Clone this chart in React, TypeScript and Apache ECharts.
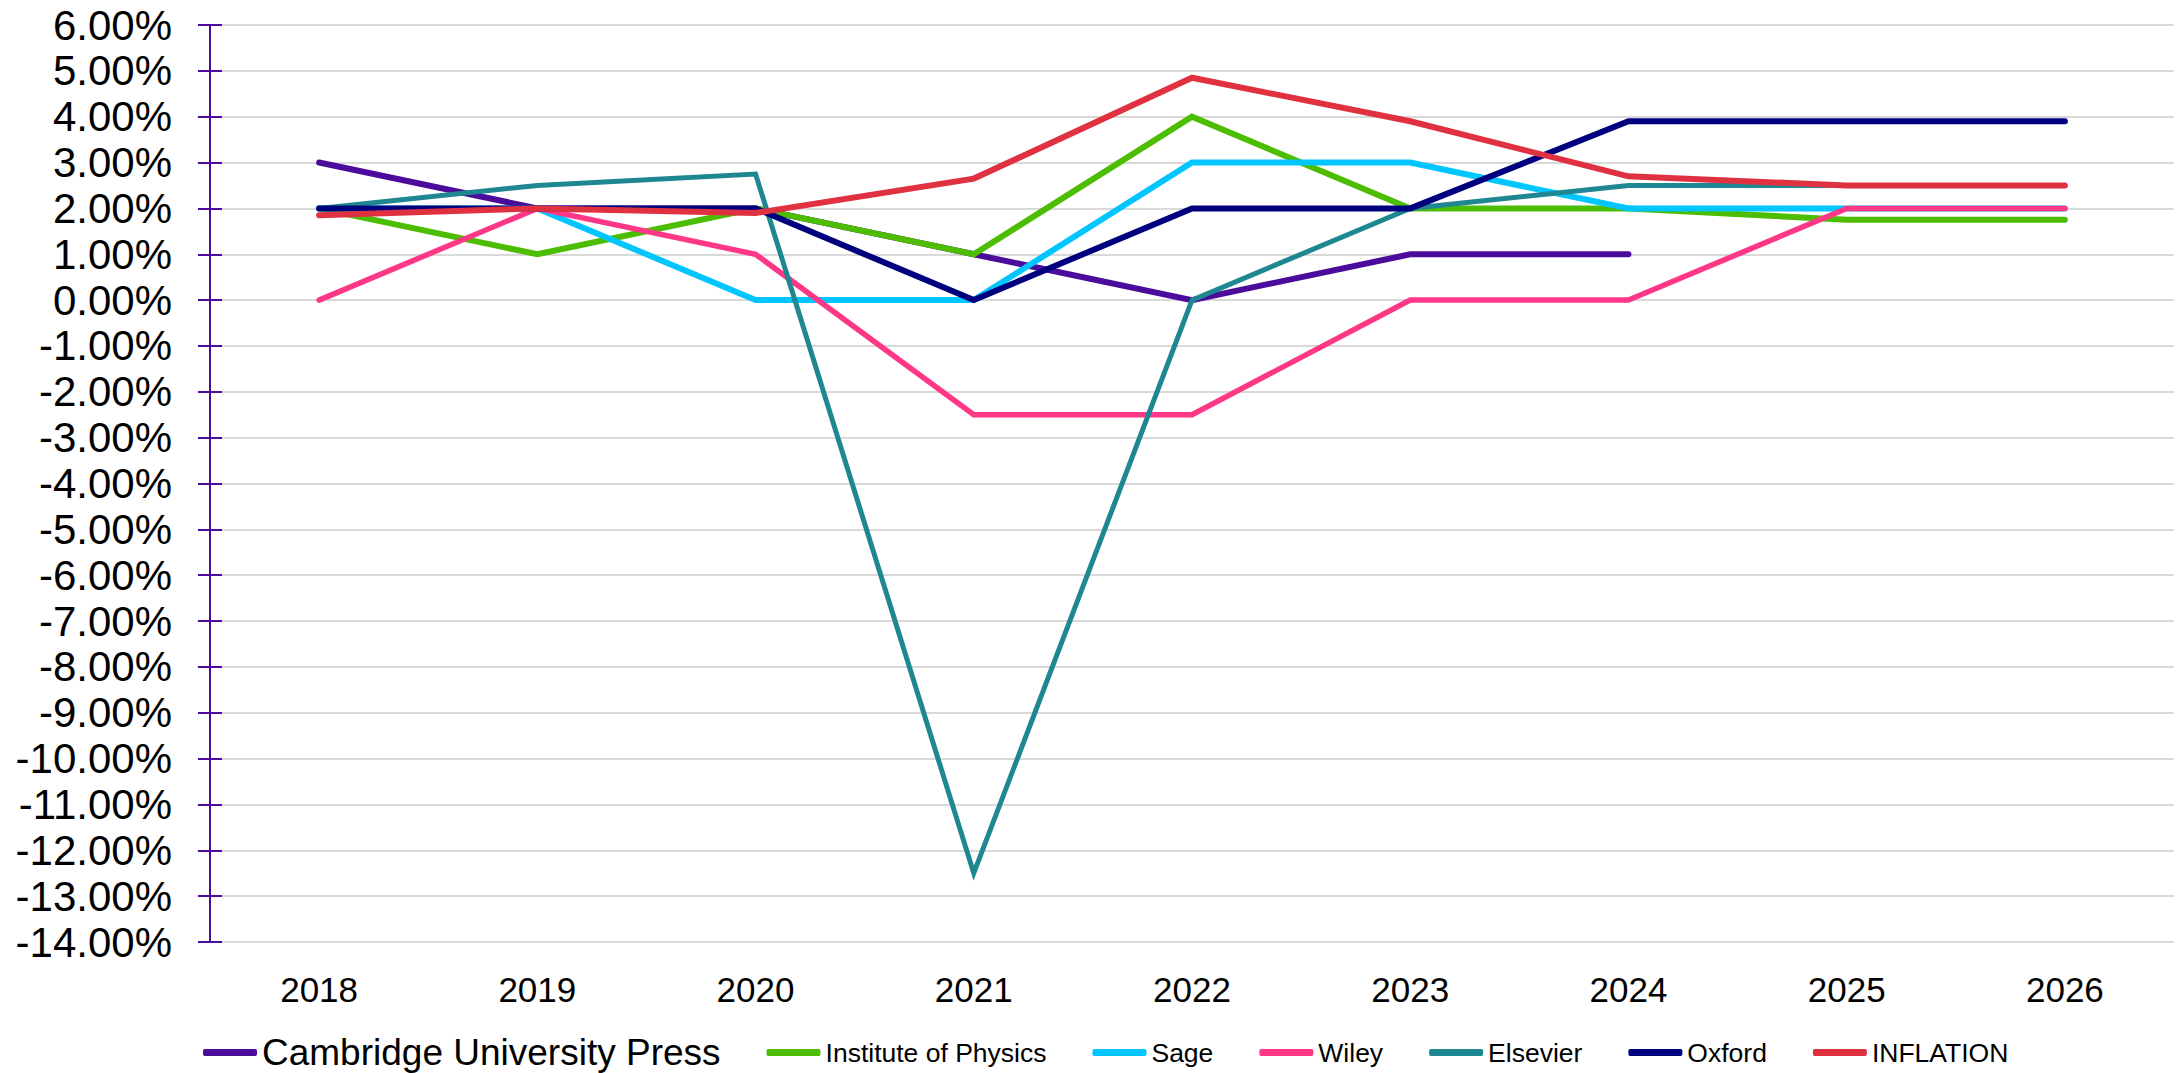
import React, { useEffect, useRef } from "react";
import * as echarts from "echarts";

const years = ["2018", "2019", "2020", "2021", "2022", "2023", "2024", "2025", "2026"];

const cambridge = [3.0, 2.0, 2.0, 1.0, 0.0, 1.0, 1.0, null, null];
const iop = [2.0, 1.0, 2.0, 1.0, 4.0, 2.0, 2.0, 1.75, 1.75];
const sage = [2.0, 2.0, 0.0, 0.0, 3.0, 3.0, 2.0, 2.0, 2.0];
const wiley = [0.0, 2.0, 1.0, -2.5, -2.5, 0.0, 0.0, 2.0, 2.0];
const elsevier = [2.0, 2.5, 2.75, -12.5, 0.0, 2.0, 2.5, 2.5, 2.5];
const oxford = [2.0, 2.0, 2.0, 0.0, 2.0, 2.0, 3.9, 3.9, 3.9];
const inflation = [1.85, 2.0, 1.9, 2.65, 4.85, 3.9, 2.7, 2.5, 2.5];

const seriesNames = [
  "Cambridge University Press",
  "Institute of Physics",
  "Sage",
  "Wiley",
  "Elsevier",
  "Oxford",
  "INFLATION",
];
const seriesData = [cambridge, iop, sage, wiley, elsevier, oxford, inflation];
const seriesColors = ["#4B0C9B", "#4CBD00", "#00C5FF", "#FF3787", "#1F8791", "#00007E", "#E03141"];
const seriesWidths = [6, 6, 6, 5.5, 5, 6, 6];

const yMin = -14;
const yMax = 6;
const yInterval = 1;

const FONT = "'Liberation Sans', Arial, sans-serif";
const AXIS_COLOR = "#4B0C9B";

export default function App() {
  const ref = useRef<HTMLDivElement>(null);
  useEffect(() => {
    if (!ref.current) return;
    const chart = echarts.init(ref.current, undefined, { renderer: "svg" });
    const option: any = {
      animation: false,
      backgroundColor: "#ffffff",
      textStyle: { fontFamily: FONT },
      grid: { left: 210, right: 8, top: 25, bottom: 131, containLabel: false },
      legend: {
        left: 198,
        top: 1029,
        itemWidth: 54,
        itemHeight: 7,
        itemGap: 46,
        icon: "roundRect",
        textStyle: { fontFamily: FONT, color: "#000000", fontSize: 26.5 },
        data: seriesNames.map((n, i) =>
          i === 0
            ? { name: n, textStyle: { fontSize: 37, color: "#000000", fontFamily: FONT } }
            : { name: n }
        ),
      },
      xAxis: {
        type: "category",
        data: years,
        boundaryGap: true,
        axisLine: { show: false },
        axisTick: { show: false },
        axisLabel: { fontSize: 35, color: "#000000", margin: 30, fontFamily: FONT },
        splitLine: { show: false },
      },
      yAxis: [
        {
          type: "value",
          min: yMin,
          max: yMax,
          interval: yInterval,
          position: "left",
          axisLine: { show: true, lineStyle: { color: AXIS_COLOR, width: 2 } },
          axisTick: { show: true, inside: false, length: 12, lineStyle: { color: AXIS_COLOR, width: 2 } },
          axisLabel: {
            fontSize: 42,
            color: "#000000",
            margin: 38,
            fontFamily: FONT,
            formatter: (v: number) => v.toFixed(2) + "%",
          },
          splitLine: { show: true, lineStyle: { color: "#D9D9D9", width: 2 } },
        },
        {
          type: "value",
          min: yMin,
          max: yMax,
          interval: yInterval,
          position: "left",
          offset: 0,
          axisLine: { show: false },
          axisTick: { show: true, inside: true, length: 12, lineStyle: { color: AXIS_COLOR, width: 2 } },
          axisLabel: { show: false },
          splitLine: { show: false },
        },
      ],
      series: seriesNames.map((n, i) => ({
        name: n,
        type: "line",
        yAxisIndex: 0,
        data: seriesData[i],
        symbol: "none",
        showSymbol: false,
        connectNulls: false,
        color: seriesColors[i],
        lineStyle: { color: seriesColors[i], width: seriesWidths[i], cap: "round", join: "miter" },
        itemStyle: { color: seriesColors[i] },
      })),
    };
    chart.setOption(option);
    return () => chart.dispose();
  }, []);
  return <div ref={ref} style={{ width: 2182, height: 1073, position: "absolute", left: 0, top: 0 }} />;
}
